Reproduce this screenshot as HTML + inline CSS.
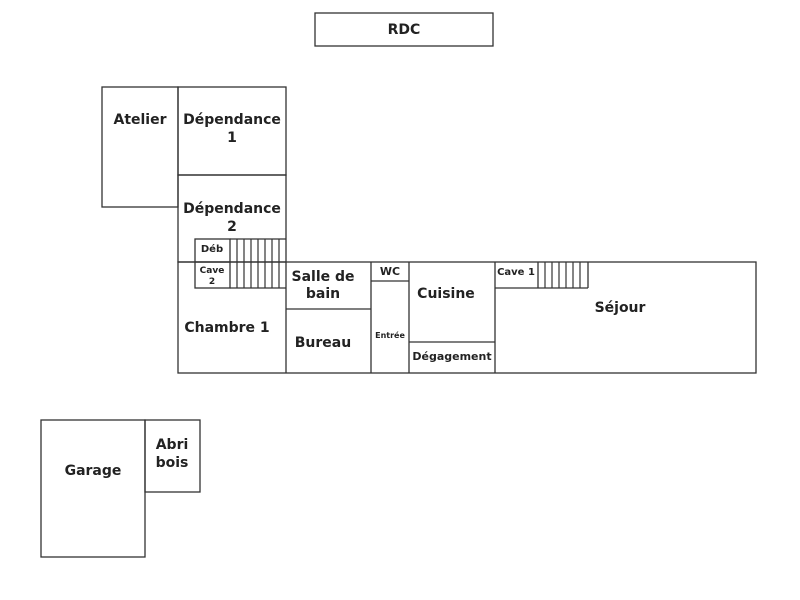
<!DOCTYPE html>
<html><head><meta charset="utf-8"><style>
html,body{margin:0;padding:0;background:#fff;}
svg{display:block}
text{font-family:"DejaVu Sans","Liberation Sans",sans-serif;font-weight:bold;fill:#222;text-anchor:middle}
</style></head><body>
<svg width="800" height="600" viewBox="0 0 800 600">
<g fill="none" stroke="#333" stroke-width="1.3">
<rect x="315" y="13" width="178" height="33"/>
<rect x="102" y="87" width="76" height="120"/>
<rect x="178" y="87" width="108" height="88"/>
<rect x="178" y="175" width="108" height="87"/>
<rect x="178" y="262" width="578" height="111"/>
<rect x="195" y="239" width="35" height="49"/>
<line x1="195" y1="262" x2="230" y2="262"/>
<line x1="230" y1="239" x2="286" y2="239"/>
<line x1="230" y1="288" x2="286" y2="288"/>
<line x1="286" y1="262" x2="286" y2="373"/>
<line x1="286" y1="309" x2="371" y2="309"/>
<line x1="371" y1="262" x2="371" y2="373"/>
<line x1="409" y1="262" x2="409" y2="373"/>
<line x1="371" y1="281" x2="409" y2="281"/>
<line x1="409" y1="342" x2="495" y2="342"/>
<line x1="495" y1="262" x2="495" y2="373"/>
<line x1="495" y1="288" x2="538" y2="288"/>
<line x1="538" y1="262" x2="538" y2="288"/>
<line x1="538" y1="288" x2="588" y2="288"/>
<line x1="588" y1="262" x2="588" y2="288"/>
<rect x="41" y="420" width="104" height="137"/>
<rect x="145" y="420" width="55" height="72"/>
</g>
<g stroke="#333" stroke-width="1.2">
<line x1="237" y1="239" x2="237" y2="288"/><line x1="244" y1="239" x2="244" y2="288"/>
<line x1="251" y1="239" x2="251" y2="288"/><line x1="258" y1="239" x2="258" y2="288"/>
<line x1="265" y1="239" x2="265" y2="288"/><line x1="272" y1="239" x2="272" y2="288"/>
<line x1="279" y1="239" x2="279" y2="288"/>
<line x1="545" y1="262" x2="545" y2="288"/><line x1="552" y1="262" x2="552" y2="288"/>
<line x1="559" y1="262" x2="559" y2="288"/><line x1="566" y1="262" x2="566" y2="288"/>
<line x1="573" y1="262" x2="573" y2="288"/><line x1="580" y1="262" x2="580" y2="288"/>
</g>
<text x="404" y="34" font-size="14">RDC</text>
<text x="140" y="124" font-size="14">Atelier</text>
<text x="232" y="124" font-size="14">Dépendance</text>
<text x="232" y="142" font-size="14">1</text>
<text x="232" y="213" font-size="14">Dépendance</text>
<text x="232" y="231" font-size="14">2</text>
<text x="212" y="252" font-size="10">Déb</text>
<text x="212" y="273" font-size="9">Cave</text>
<text x="212" y="284" font-size="9">2</text>
<text x="227" y="332" font-size="14">Chambre 1</text>
<text x="323" y="281" font-size="14">Salle de</text>
<text x="323" y="298" font-size="14">bain</text>
<text x="323" y="347" font-size="14">Bureau</text>
<text x="390" y="275" font-size="11">WC</text>
<text x="390" y="338" font-size="8">Entrée</text>
<text x="446" y="298" font-size="14">Cuisine</text>
<text x="452" y="360" font-size="11">Dégagement</text>
<text x="516" y="275" font-size="10">Cave 1</text>
<text x="620" y="312" font-size="14">Séjour</text>
<text x="93" y="475" font-size="14">Garage</text>
<text x="172" y="449" font-size="14">Abri</text>
<text x="172" y="467" font-size="14">bois</text>
</svg>
</body></html>
